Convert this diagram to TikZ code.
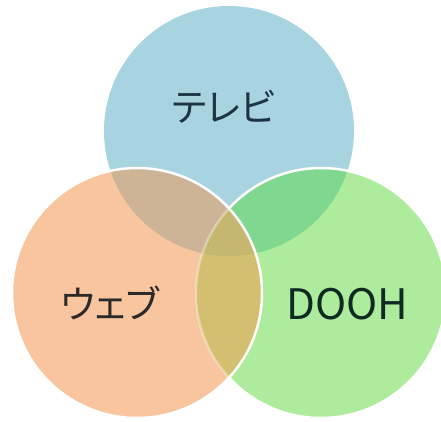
\documentclass[tikz,border=0pt]{standalone}
\usepackage{fontspec}
\setmainfont{Noto Sans CJK JP}
\newfontfamily\kana{Noto Sans CJK JP}[RawFeature={+palt}]
\definecolor{cblue}{HTML}{A8D4E1}
\definecolor{corange}{HTML}{F9C59F}
\definecolor{cgreen}{HTML}{AEEC9D}
\definecolor{cbo}{HTML}{CDB497}
\definecolor{cbg}{HTML}{80D78F}
\definecolor{cog}{HTML}{D4BE6F}
\definecolor{call}{HTML}{C5B76F}
\definecolor{tblue}{HTML}{1E3446}
\definecolor{torange}{HTML}{2A2A2A}
\definecolor{tgreen}{HTML}{0E2A22}
\tikzset{
  lbl/.style={font=\fontsize{42}{50}\selectfont, inner sep=0pt},
  klbl/.style={font=\kana\fontsize{38}{46}\selectfont, inner sep=0pt},
  rim/.style={draw=white, line width=2.5pt}
}
\begin{document}
\begin{tikzpicture}[x=1pt,y=1pt]
\useasboundingbox (0,0) rectangle (441,421);
\coordinate (T) at (229,290);
\coordinate (L) at (137,128);
\coordinate (R) at (321,128);
\def\rr{125}
% base fills
\fill[cblue] (T) circle (\rr);
\fill[corange] (L) circle (\rr);
\fill[cgreen] (R) circle (\rr);
% pairwise overlaps
\begin{scope}
  \clip (T) circle (\rr);
  \fill[cbo] (L) circle (\rr);
  \fill[cbg] (R) circle (\rr);
\end{scope}
\begin{scope}
  \clip (L) circle (\rr);
  \fill[cog] (R) circle (\rr);
  \clip (R) circle (\rr);
  \fill[call] (T) circle (\rr);
\end{scope}
% green rim: full outside orange, faint inside orange
\begin{scope}[even odd rule]
  \clip (-10,-10) rectangle (451,431) (L) circle (\rr);
  \draw[rim] (R) circle (\rr);
\end{scope}
\begin{scope}
  \clip (L) circle (\rr);
  \draw[rim, draw opacity=0.35] (R) circle (\rr);
\end{scope}
% orange rim
\draw[rim] (L) circle (\rr);
% labels
\node[klbl, text=tblue] (tv) at (224,314) {テレビ};
\node[klbl, text=torange] (web) at (110,118) {ウェブ};
\node[lbl, text=tgreen] (dooh) at (347,117) {DOOH};
\end{tikzpicture}
\end{document}
